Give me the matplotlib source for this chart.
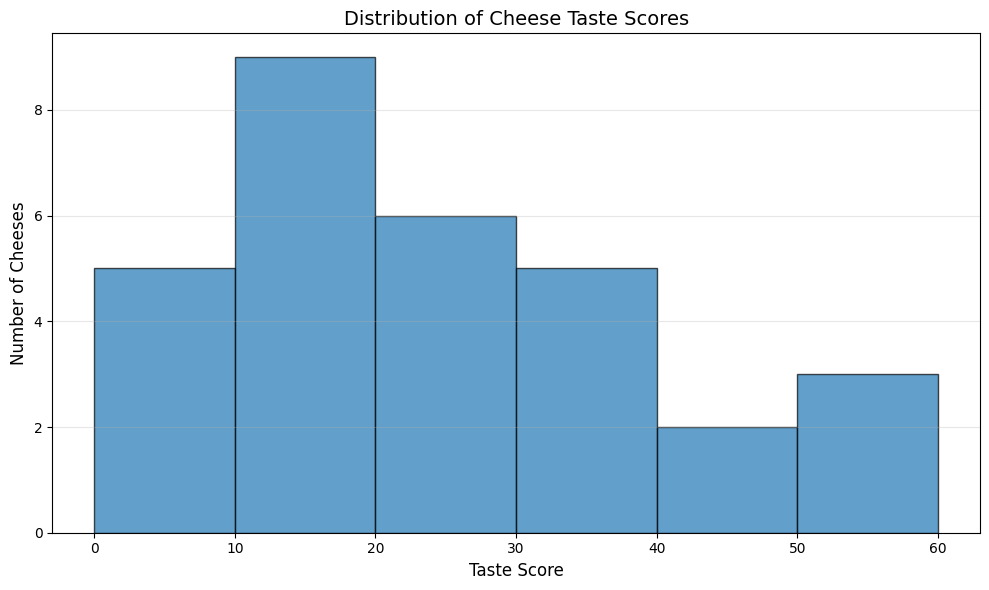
import numpy as np
import matplotlib.pyplot as plt

# histogram
bin_edges = [0, 10, 20, 30, 40, 50, 60]
counts = [5, 9, 6, 5, 2, 3]

fig, ax = plt.subplots(figsize=(10, 6), dpi=100)

ax.hist(bin_edges[:-1], bins=bin_edges, weights=counts,
        color='#1f77b4', alpha=0.7, edgecolor='black')

ax.set_xlabel('Taste Score', fontsize=12)
ax.set_ylabel('Number of Cheeses', fontsize=12)
ax.set_title('Distribution of Cheese Taste Scores', fontsize=14)
ax.grid(axis='y', alpha=0.3)

plt.tight_layout()
plt.savefig('out.png', dpi=100, bbox_inches='tight')
